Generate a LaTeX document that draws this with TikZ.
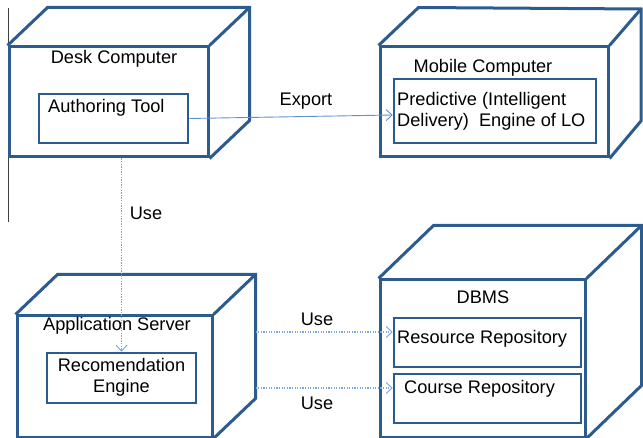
\documentclass[tikz,border=0pt]{standalone}
\usepackage{fontspec}
\setmainfont{Liberation Sans}
\usetikzlibrary{arrows.meta}
\definecolor{cubeblue}{HTML}{2C5B90}
\definecolor{linkblue}{HTML}{5E92D6}
\definecolor{dotblue}{HTML}{7AA6E0}
\tikzset{
  cube/.style={draw=cubeblue, line width=3pt, line join=miter},
  face/.style={cube, rectangle, inner sep=0pt},
  part/.style={draw=cubeblue, line width=2.5pt, rectangle, inner sep=0pt},
  txt/.style={font=\fontsize{18.2}{21}\selectfont, inner sep=0pt, text=black},
  export/.style={draw=linkblue, line width=0.9pt, -{Straight Barb[length=6pt,width=11pt]}},
  uses/.style={draw=dotblue, line width=1.3pt, dash pattern=on 1.3pt off 1.3pt,
    -{Straight Barb[length=6pt,width=11pt,line width=0.9pt]}},
}
% top and right faces of a cube whose front face is node #1, depth (#2,#3)
\newcommand{\cubeframe}[3]{%
  \draw[cube] (#1.north west) -- ++(#2,-#3) -- ([shift={(#2,-#3)}]#1.north east)
    -- ([shift={(#2,-#3)}]#1.south east) -- (#1.south east);
  \draw[cube] (#1.north east) -- ++(#2,-#3);
}
\begin{document}
\begin{tikzpicture}[x=1pt, y=-1pt]
\useasboundingbox (0,0) rectangle (643,438);
\fill[white] (0,0) rectangle (643,438);

% thin rule at the left edge
\draw[black!75, line width=0.9pt] (8,8) -- (8,222);

% front faces
\node[face, minimum width=199, minimum height=110] (desk) at (108.5,102) {};
\node[face, minimum width=228, minimum height=110] (mobile) at (494,102) {};
\node[face, minimum width=195, minimum height=121] (appsrv) at (114.5,376.5) {};
\node[face, minimum width=205, minimum height=157] (dbms) at (482.5,358.5) {};

\cubeframe{desk}{40}{38}
% the mobile cube runs to the right edge, so its back is narrower
\draw[cube] (mobile.north west) -- ++(40,-38) -- (641,9) -- (641,121) -- (mobile.south east);
\draw[cube] (mobile.north east) -- (641,9);
\cubeframe{appsrv}{42}{40}
\cubeframe{dbms}{55}{53}

% cube titles
\node[txt] (deskt) at (114,59) {Desk Computer};
\node[txt] (mobilet) at (483,68) {Mobile Computer};
\node[txt] (appsrvt) at (117,326) {Application Server};
\node[txt] (dbmst) at (483,297) {DBMS};

% components
\node[part, minimum width=149, minimum height=49] (author) at (113.5,118.5) {};
\node[txt, anchor=west] at (48,108) {Authoring Tool};

\node[part, minimum width=202, minimum height=64] (engine) at (495,111) {};
\node[txt, anchor=west, align=left] at (397,111) {Predictive (Intelligent\\Delivery)\ \ Engine of LO};

\node[part, minimum width=149, minimum height=50] (recom) at (121.5,378) {};
\node[txt, align=center] at (121.5,377) {Recomendation\\Engine};

\node[part, minimum width=187, minimum height=49] (resrep) at (487.5,342.5) {};
\node[txt, anchor=west] at (397,339) {Resource Repository};

\node[part, minimum width=187, minimum height=49] (crsrep) at (487.5,398.5) {};
\node[txt, anchor=west] at (404,389) {Course Repository};

% connectors
\draw[export] (author.east) -- ([yshift=-4pt]engine.west);
\node[txt] (exportl) at (306,101) {Export};

\draw[uses] (desk.south -| recom.north) -- (recom.north);
\node[txt] (use1) at (146,213) {Use};

\coordinate (appedge) at ([xshift=42pt]appsrv.east);
\draw[uses] ([yshift=10.5pt]appedge |- resrep.west) -- ([yshift=10.5pt]resrep.west);
\draw[uses] ([yshift=10.5pt]appedge |- crsrep.west) -- ([yshift=10.5pt]crsrep.west);
\node[txt] (use2) at (317,319) {Use};
\node[txt] (use3) at (317,403) {Use};
\end{tikzpicture}
\end{document}
